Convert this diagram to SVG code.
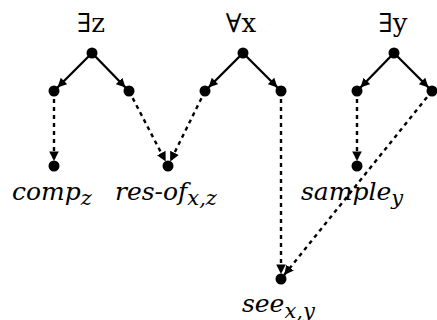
<svg xmlns="http://www.w3.org/2000/svg" width="437" height="320" viewBox="0 0 437 320">
<defs>
<marker id="ah" viewBox="0 0 10 10" refX="10" refY="5" markerWidth="4" markerHeight="4" orient="auto" markerUnits="strokeWidth">
<path d="M0,0 L10,5 L0,10 z" fill="#000"/>
</marker>
</defs>
<style>
.s{stroke:#000;stroke-width:2.3;fill:none}
.d{stroke:#000;stroke-width:2.4;fill:none;stroke-dasharray:4 4}
.dot{fill:#000}
.q{font-family:"DejaVu Serif",serif;font-size:26px;fill:#000}
.l{font-family:"DejaVu Serif",serif;font-style:italic;font-size:25px;fill:#000}
.sub{font-size:21px}
</style>
<g id="connectors">
<line class="s" x1="92" y1="53" x2="57.5" y2="87.5" marker-end="url(#ah)"/>
<line class="s" x1="92" y1="53" x2="125.5" y2="87.5" marker-end="url(#ah)"/>
<line class="s" x1="243" y1="53" x2="208.5" y2="87.5" marker-end="url(#ah)"/>
<line class="s" x1="243" y1="53" x2="277.5" y2="87.5" marker-end="url(#ah)"/>
<line class="s" x1="394" y1="53" x2="360.5" y2="87.5" marker-end="url(#ah)"/>
<line class="s" x1="394" y1="53" x2="428.5" y2="87.5" marker-end="url(#ah)"/>
<line class="d" x1="54" y1="91" x2="54" y2="161" marker-end="url(#ah)"/>
<line class="d" x1="129" y1="91" x2="165.7" y2="161.6" marker-end="url(#ah)"/>
<line class="d" x1="205" y1="91" x2="170.2" y2="161.5" marker-end="url(#ah)"/>
<line class="d" x1="281" y1="91" x2="281" y2="274" marker-end="url(#ah)"/>
<line class="d" x1="357" y1="91" x2="357" y2="161" marker-end="url(#ah)"/>
<line class="d" x1="432" y1="91" x2="284.1" y2="275.1" marker-end="url(#ah)"/>
</g>
<g id="ez">
<circle class="dot" cx="92" cy="53" r="5.5"/>
<text class="q" x="91" y="32" text-anchor="middle">∃z</text>
</g>
<g id="ax">
<circle class="dot" cx="243" cy="53" r="5.5"/>
<text class="q" x="241" y="32" text-anchor="middle">∀x</text>
</g>
<g id="ey">
<circle class="dot" cx="394" cy="53" r="5.5"/>
<text class="q" x="393" y="32" text-anchor="middle">∃y</text>
</g>
<g id="ez-l"><circle class="dot" cx="54" cy="91" r="5.5"/></g>
<g id="ez-r"><circle class="dot" cx="129" cy="91" r="5.5"/></g>
<g id="ax-l"><circle class="dot" cx="205" cy="91" r="5.5"/></g>
<g id="ax-r"><circle class="dot" cx="281" cy="91" r="5.5"/></g>
<g id="ey-l"><circle class="dot" cx="357" cy="91" r="5.5"/></g>
<g id="ey-r"><circle class="dot" cx="432" cy="91" r="5.5"/></g>
<g id="comp">
<circle class="dot" cx="54" cy="166" r="5.5"/>
<text class="l" x="12" y="200">comp<tspan class="sub" dy="5">z</tspan></text>
</g>
<g id="resof">
<circle class="dot" cx="168" cy="166" r="5.5"/>
<text class="l" x="115" y="200">res-of<tspan class="sub" dy="5">x,z</tspan></text>
</g>
<g id="sample">
<circle class="dot" cx="357" cy="166" r="5.5"/>
<text class="l" x="301" y="200">sample<tspan class="sub" dy="5">y</tspan></text>
</g>
<g id="see">
<circle class="dot" cx="281" cy="279" r="5.5"/>
<text class="l" x="242" y="312">see<tspan class="sub" dy="6">x,y</tspan></text>
</g>
</svg>
